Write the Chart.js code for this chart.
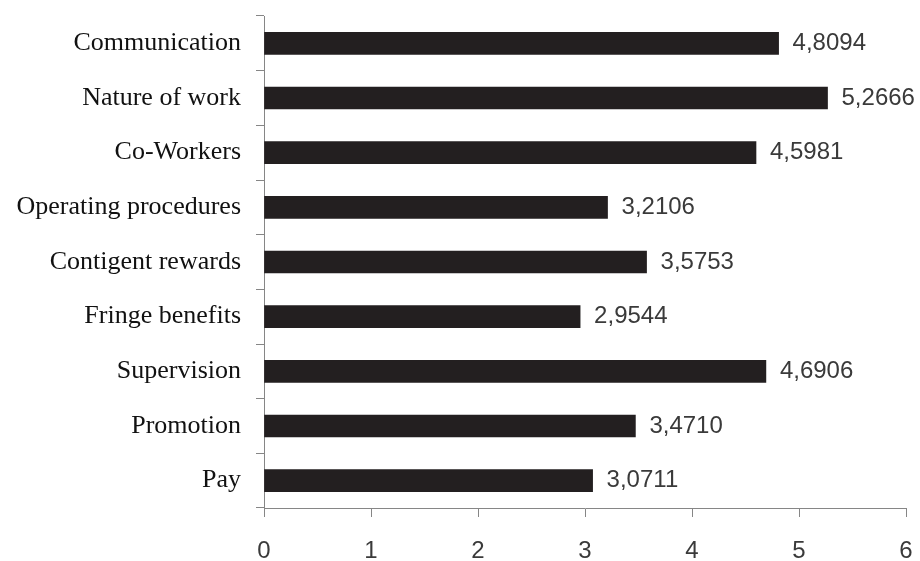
<!DOCTYPE html>
<html>
<head>
<meta charset="utf-8">
<script src="https://cdn.jsdelivr.net/npm/chart.js@4"></script>
<style>
  html, body { margin: 0; padding: 0; background: #ffffff; }
  #wrap { width: 920px; height: 561px; }
</style>
</head>
<body>
<div id="wrap"><canvas id="c" width="920" height="561"></canvas></div>
<script>
// Job satisfaction facets and their mean scores
const categories = [
  'Communication',
  'Nature of work',
  'Co-Workers',
  'Operating procedures',
  'Contigent rewards',
  'Fringe benefits',
  'Supervision',
  'Promotion',
  'Pay'
];
const scores = [4.8094, 5.2666, 4.5981, 3.2106, 3.5753, 2.9544, 4.6906, 3.4710, 3.0711];
const scoreLabels = ['4,8094', '5,2666', '4,5981', '3,2106', '3,5753', '2,9544', '4,6906', '3,4710', '3,0711'];
const xTicks = [0, 1, 2, 3, 4, 5, 6];

const axisGray = '#868686';
const sansFont = "'Liberation Sans', Arial, sans-serif";
const serifFont = "'Liberation Serif', 'Times New Roman', serif";

// Writes each score just past the end of its bar
const valueLabels = {
  id: 'valueLabels',
  afterDatasetsDraw(chart) {
    const ctx = chart.ctx;
    const meta = chart.getDatasetMeta(0);
    ctx.save();
    ctx.font = '24px ' + sansFont;
    ctx.fillStyle = '#3a3a3a';
    ctx.textAlign = 'left';
    ctx.textBaseline = 'middle';
    meta.data.forEach((bar, i) => {
      ctx.fillText(scoreLabels[i], bar.x + 14, bar.y);
    });
    ctx.restore();
  }
};

new Chart(document.getElementById('c'), {
  type: 'bar',
  data: {
    labels: categories,
    datasets: [{
      data: scores,
      backgroundColor: '#231f20',
      borderWidth: 0,
      barThickness: 22
    }]
  },
  options: {
    indexAxis: 'y',
    responsive: false,
    animation: false,
    devicePixelRatio: 1,
    layout: { padding: { top: 16, right: 14, left: 0, bottom: 0 } },
    plugins: {
      legend: { display: false },
      tooltip: { enabled: false }
    },
    scales: {
      x: {
        min: 0,
        max: 6,
        afterBuildTicks(scale) { scale.ticks = xTicks.map(v => ({ value: v })); },
        afterFit(scale) {
          scale.height = 53;
          scale.paddingLeft = 0;
          scale.paddingRight = 0;
        },
        grid: {
          drawOnChartArea: false,
          drawTicks: true,
          tickLength: 9,
          color: axisGray,
          lineWidth: 1
        },
        border: { color: axisGray, width: 1 },
        ticks: {
          padding: 20,
          color: '#3a3a3a',
          font: { family: sansFont, size: 24 }
        }
      },
      y: {
        afterFit(scale) {
          scale.width = 264;
          scale.paddingTop = 0;
          scale.paddingBottom = 0;
        },
        grid: {
          offset: true,
          drawOnChartArea: false,
          drawTicks: true,
          tickLength: 8,
          color: axisGray,
          lineWidth: 1
        },
        border: { color: axisGray, width: 1 },
        ticks: {
          padding: 15,
          color: '#111111',
          font: { family: serifFont, size: 26 }
        }
      }
    }
  },
  plugins: [valueLabels]
});
</script>
</body>
</html>
